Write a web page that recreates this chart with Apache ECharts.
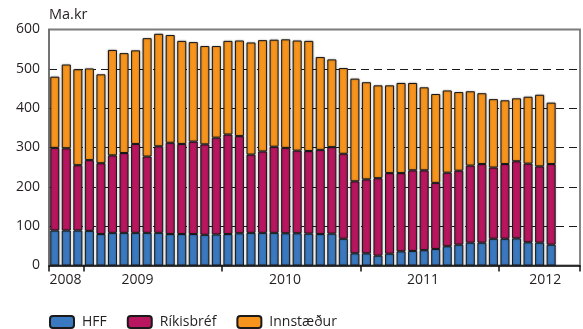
<!DOCTYPE html>
<html>
<head>
<meta charset="utf-8">
<script src="https://cdn.jsdelivr.net/npm/echarts@6/dist/echarts.min.js"></script>
<style>
  html, body { margin: 0; padding: 0; background: #fff; }
  #chart { width: 583px; height: 329px; }
</style>
</head>
<body>
<div id="chart"></div>
<script>
// Monthly holdings, Oct 2008 – May 2012 (Ma.kr); axis runs on to Jul 2012
const months = [
  '2008-10','2008-11','2008-12',
  '2009-01','2009-02','2009-03','2009-04','2009-05','2009-06','2009-07','2009-08','2009-09','2009-10','2009-11','2009-12',
  '2010-01','2010-02','2010-03','2010-04','2010-05','2010-06','2010-07','2010-08','2010-09','2010-10','2010-11','2010-12',
  '2011-01','2011-02','2011-03','2011-04','2011-05','2011-06','2011-07','2011-08','2011-09','2011-10','2011-11','2011-12',
  '2012-01','2012-02','2012-03','2012-04','2012-05','2012-06','2012-07'
];
const hff = [
  89, 89, 89,
  88, 80, 83, 83, 83, 83, 83, 80, 80, 80, 78, 79,
  80, 82, 83, 83, 83, 82, 82, 81, 80, 81, 68, 31,
  31, 25, 30, 36, 37, 39, 42, 49, 53, 58, 58, 68,
  68, 69, 59, 58, 53
];
const rikisbref = [
  210, 209, 166,
  180, 180, 197, 203, 226, 194, 220, 232, 229, 235, 230, 246,
  253, 247, 199, 207, 219, 217, 210, 210, 214, 220, 216, 183,
  188, 197, 205, 199, 205, 203, 168, 187, 188, 196, 200, 181,
  190, 196, 200, 194, 205
];
const innstaedur = [
  181, 213, 244,
  233, 226, 268, 254, 238, 301, 286, 274, 262, 253, 250, 233,
  238, 243, 285, 283, 272, 276, 280, 280, 236, 223, 218, 261,
  247, 236, 223, 229, 222, 211, 226, 209, 200, 189, 180, 174,
  162, 160, 170, 182, 156
];
const seriesNames = ['HFF', 'Ríkisbréf', 'Innstæður'];
const seriesColors = ['#3a79bf', '#b8165f', '#f7941d'];

// Year boundaries and year labels, in months counted from Oct 2008
const yearTicks = [0, 3, 15, 27, 39, 46];
const yearLabels = ['2008', '2009', '2010', '2011', '2012'];
const yearLabelAt = [1.43, 7.67, 20.45, 32.4, 43.0];
const yTicks = [0, 100, 200, 300, 400, 500, 600];

const FONT = '"Open Sans", "Noto Sans", sans-serif';
const TXT = '#231f20';
const stacks = [hff, rikisbref, innstaedur];

const chart = echarts.init(document.getElementById('chart'), null, { renderer: 'canvas' });
chart.setOption({
  animation: false,
  textStyle: { fontFamily: FONT },
  grid: {
    left: 49, right: 3, top: 29.5, bottom: 63.5,
    show: true, borderColor: '#7b7b7b', borderWidth: 1.8,
    backgroundColor: 'transparent'
  },
  legend: {
    data: seriesNames,
    left: 44, top: 310,
    itemWidth: 24, itemHeight: 12, itemGap: 20,
    textStyle: { fontFamily: FONT, fontSize: 14, color: TXT, padding: [0, 0, 0, 3] }
  },
  xAxis: [
    {
      // month categories carrying the bars
      type: 'category',
      data: months,
      boundaryGap: true,
      axisLine: { show: false },
      axisTick: { show: false },
      axisLabel: { show: false },
      splitLine: { show: false }
    },
    {
      // year ticks and labels on a month scale
      type: 'value',
      min: 0, max: months.length,
      position: 'bottom',
      axisLine: { show: true, lineStyle: { color: '#111', width: 1.5 } },
      axisTick: {
        show: true, customValues: yearTicks, length: 6,
        lineStyle: { color: '#111', width: 1.5 }
      },
      axisLabel: {
        customValues: yearLabelAt,
        margin: 8,
        fontFamily: FONT, fontSize: 14, color: TXT,
        formatter: v => {
          let best = 0;
          yearLabelAt.forEach((p, k) => { if (Math.abs(p - v) < Math.abs(yearLabelAt[best] - v)) best = k; });
          return yearLabels[best];
        }
      },
      splitLine: { show: false }
    }
  ],
  yAxis: {
    type: 'value',
    min: yTicks[0], max: yTicks[yTicks.length - 1], interval: 100,
    name: 'Ma.kr',
    nameLocation: 'end',
    nameGap: 7,
    nameTextStyle: { align: 'left', fontFamily: FONT, fontSize: 14.5, color: TXT },
    axisLine: { show: true, lineStyle: { color: '#6e6e6e', width: 1.5 } },
    axisTick: { show: false },
    axisLabel: { margin: 9, fontFamily: FONT, fontSize: 14, color: TXT, padding: [4, 0, 0, 0] },
    splitLine: {
      show: true,
      lineStyle: {
        color: ['transparent', '#1a1a1a', '#1a1a1a', '#1a1a1a', '#1a1a1a', '#1a1a1a', 'transparent'],
        type: [8, 5], width: 1
      }
    }
  },
  series: stacks.map((arr, k) => ({
    name: seriesNames[k],
    type: 'bar',
    stack: 'total',
    xAxisIndex: 0,
    barWidth: 9,
    data: arr,
    itemStyle: {
      color: seriesColors[k],
      borderColor: '#1a1a1a',
      borderWidth: 1,
      shadowBlur: 2,
      shadowColor: 'rgba(0,0,0,0.35)'
    }
  }))
});
</script>
</body>
</html>
